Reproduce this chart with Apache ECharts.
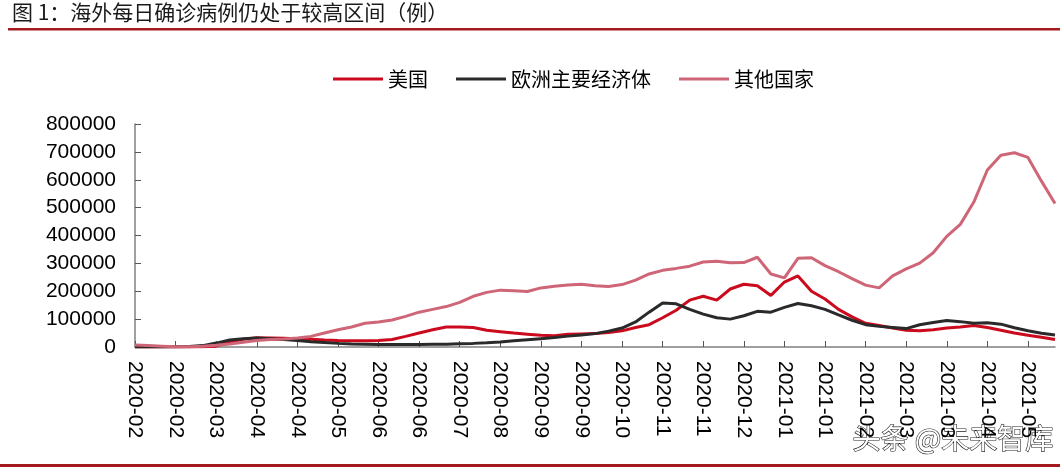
<!DOCTYPE html>
<html>
<head>
<meta charset="utf-8">
<title>海外每日确诊病例</title>
<script src="https://cdn.jsdelivr.net/npm/echarts@6/dist/echarts.min.js"></script>
<style>
  html, body { margin: 0; padding: 0; background: #fff; }
  #chart { width: 1060px; height: 471px; }
</style>
</head>
<body>
<div id="chart"></div>
<script>
// weekly samples
const dates = [
  '2020-02-04', '2020-02-11', '2020-02-18', '2020-02-25', '2020-03-03', '2020-03-10', '2020-03-17',
  '2020-03-24', '2020-03-31', '2020-04-07', '2020-04-14', '2020-04-21', '2020-04-28', '2020-05-05',
  '2020-05-12', '2020-05-19', '2020-05-26', '2020-06-02', '2020-06-09', '2020-06-16', '2020-06-23',
  '2020-06-30', '2020-07-07', '2020-07-14', '2020-07-21', '2020-07-28', '2020-08-04', '2020-08-11',
  '2020-08-18', '2020-08-25', '2020-09-01', '2020-09-08', '2020-09-15', '2020-09-22', '2020-09-29',
  '2020-10-06', '2020-10-13', '2020-10-20', '2020-10-27', '2020-11-03', '2020-11-10', '2020-11-17',
  '2020-11-24', '2020-12-01', '2020-12-08', '2020-12-15', '2020-12-22', '2020-12-29', '2021-01-05',
  '2021-01-12', '2021-01-19', '2021-01-26', '2021-02-02', '2021-02-09', '2021-02-16', '2021-02-23',
  '2021-03-02', '2021-03-09', '2021-03-16', '2021-03-23', '2021-03-30', '2021-04-06', '2021-04-13',
  '2021-04-20', '2021-04-27', '2021-05-04', '2021-05-11', '2021-05-18', '2021-05-25'
]

const usa = [
  0, 0, 0, 0, 100, 500, 3000, 18000, 28000, 33000,
  32000, 31000, 30000, 28000, 25000, 23000, 22000, 22000, 23000, 27000,
  38000, 50000, 62000, 72000, 72000, 70000, 60000, 55000, 50000, 46000,
  42000, 40000, 46000, 47000, 48000, 52000, 58000, 70000, 80000, 105000,
  132000, 168000, 182000, 168000, 208000, 225000, 220000, 185000, 233000, 255000,
  200000, 172000, 135000, 108000, 85000, 77000, 68000, 60000, 58000, 62000,
  68000, 72000, 77000, 70000, 60000, 50000, 42000, 35000, 27000
]

const europe = [
  0, 0, 200, 1000, 2000, 5000, 14000, 25000, 30000, 32000,
  30000, 27000, 23000, 19000, 16000, 13000, 11000, 10000, 9000, 9000,
  9000, 9000, 10000, 10000, 12000, 13000, 15000, 18000, 22000, 26000,
  30000, 34000, 39000, 43000, 48000, 57000, 68000, 90000, 125000, 158000,
  155000, 135000, 118000, 105000, 100000, 112000, 128000, 125000, 142000, 156000,
  148000, 135000, 115000, 96000, 80000, 74000, 70000, 66000, 80000, 88000,
  95000, 91000, 85000, 87000, 82000, 69000, 58000, 49000, 43000
]

const others = [
  7000, 5000, 3000, 1000, 1000, 3000, 6000, 11000, 17000, 23000,
  27000, 29000, 32000, 38000, 50000, 62000, 72000, 85000, 90000, 97000,
  110000, 125000, 135000, 145000, 160000, 182000, 196000, 204000, 202000, 199000,
  212000, 218000, 222000, 225000, 220000, 217000, 224000, 240000, 262000, 275000,
  282000, 290000, 305000, 308000, 302000, 303000, 322000, 262000, 248000, 318000,
  320000, 292000, 270000, 245000, 222000, 212000, 255000, 280000, 301000, 338000,
  397000, 440000, 520000, 635000, 688000, 697000, 680000, 595000, 515000
]

const seriesNames = ['美国', '欧洲主要经济体', '其他国家']
const colors = ['#cc0a1e', '#2a2a2a', '#cf6677']

const chart = echarts.init(document.getElementById('chart'))
const numFont = '"Liberation Sans", Arial, sans-serif'
const cjkFont = '"Noto Sans CJK SC", sans-serif'

const option = {
  animation: false,
  backgroundColor: '#fff',
  color: colors,
  legend: {
    data: seriesNames,
    left: 328,
    top: 64,
    icon: 'rect',
    itemWidth: 50,
    itemHeight: 3,
    itemGap: 28,
    textStyle: { fontSize: 20, color: '#000', fontFamily: cjkFont }
  },
  grid: { left: 135, right: 5, top: 124, bottom: 124 },
  xAxis: {
    type: 'category',
    data: dates,
    boundaryGap: false,
    axisLine: { lineStyle: { color: '#808080', width: 1.5 } },
    axisTick: { inside: true, length: 6, interval: 2, lineStyle: { color: '#555' } },
    axisLabel: {
      interval: 2,
      rotate: -90,
      margin: 14,
      fontSize: 21,
      color: '#000',
      fontFamily: numFont,
      formatter: v => v.slice(0, 7)
    },
    splitLine: { show: false }
  },
  yAxis: {
    type: 'value',
    min: 0,
    max: 800000,
    interval: 100000,
    axisLine: { show: true, lineStyle: { color: '#808080', width: 1.5 } },
    axisTick: { show: true, inside: true, length: 6, lineStyle: { color: '#555' } },
    axisLabel: {
      margin: 19,
      fontSize: 21,
      color: '#000',
      fontFamily: numFont,
      formatter: v => String(v)
    },
    splitLine: { show: false }
  },
  series: [
    { name: seriesNames[0], type: 'line', data: usa, showSymbol: false, lineStyle: { width: 3 } },
    { name: seriesNames[1], type: 'line', data: europe, showSymbol: false, lineStyle: { width: 3 } },
    { name: seriesNames[2], type: 'line', data: others, showSymbol: false, lineStyle: { width: 3 } }
  ],
  graphic: [
    {
      type: 'text', left: 12, top: 2,
      style: { text: '图 1：海外每日确诊病例仍处于较高区间（例）', font: '21px "Noto Sans CJK SC", sans-serif', fill: '#1a1a1a' }
    },
    { type: 'rect', left: 8, top: 28, shape: { width: 1052, height: 2.5 }, style: { fill: '#a5191e' } },
    { type: 'rect', left: 0, top: 464, shape: { width: 1060, height: 3 }, style: { fill: '#a5191e' } },
    {
      type: 'text', left: 852, top: 424,
      style: { text: '头条 @未来智库', font: '28px "Noto Sans CJK SC", sans-serif', fill: '#fff', stroke: '#222', lineWidth: 1.2 }
    }
  ]
}

chart.setOption(option)
</script>
</body>
</html>
